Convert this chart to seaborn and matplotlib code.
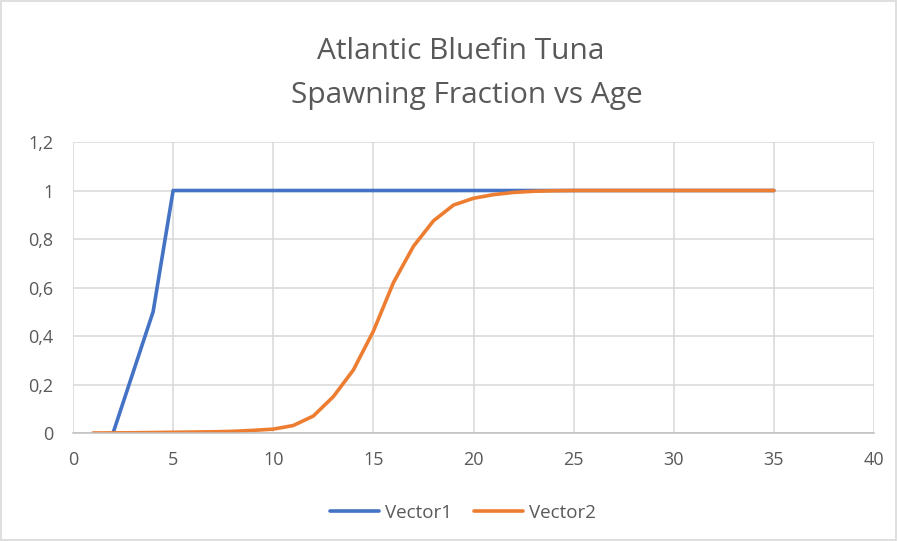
import matplotlib
matplotlib.use("Agg")
import matplotlib.pyplot as plt
import seaborn as sns
import pandas as pd
from matplotlib.ticker import FuncFormatter, MultipleLocator
from matplotlib.patches import Rectangle

age1 = [2, 3, 4, 5, 6, 7, 8, 9, 10, 11, 12, 13, 14, 15, 16, 17, 18, 19, 20,
        21, 22, 23, 24, 25, 26, 27, 28, 29, 30, 31, 32, 33, 34, 35]
vector1 = [0, 0.25, 0.5, 1, 1, 1, 1, 1, 1, 1, 1, 1, 1, 1, 1, 1, 1, 1, 1,
           1, 1, 1, 1, 1, 1, 1, 1, 1, 1, 1, 1, 1, 1, 1]
age2 = list(range(1, 36))
vector2 = [0, 0.0005, 0.001, 0.002, 0.003, 0.004, 0.005, 0.007, 0.011, 0.016,
           0.031, 0.07, 0.15, 0.26, 0.42, 0.62, 0.77, 0.875, 0.94, 0.968,
           0.983, 0.992, 0.997, 0.999, 1, 1, 1, 1, 1, 1, 1, 1, 1, 1, 1]
title_lines = ["Atlantic Bluefin Tuna", "Spawning Fraction vs Age"]

df = pd.concat([
    pd.DataFrame({"Age": age1, "Fraction": vector1, "Series": "Vector1"}),
    pd.DataFrame({"Age": age2, "Fraction": vector2, "Series": "Vector2"}),
])

sns.set_theme(style="white")
plt.rcParams["font.family"] = ["Open Sans", "DejaVu Sans"]
text_color = "#595959"

fig = plt.figure(figsize=(8.98, 5.41), dpi=100)
ax = fig.add_axes([0.0813, 0.1996, 0.892, 0.5379])

sns.lineplot(data=df, x="Age", y="Fraction", hue="Series",
             palette={"Vector1": "#4472C4", "Vector2": "#ED7D31"},
             linewidth=2.6, ax=ax, legend=True)

ax.set_xlim(0, 40)
ax.set_ylim(0, 1.2)
ax.xaxis.set_major_locator(MultipleLocator(5))
ax.yaxis.set_major_locator(MultipleLocator(0.2))
ax.yaxis.set_major_formatter(FuncFormatter(
    lambda v, p: ("%g" % round(v, 1)).replace(".", ",")))
ax.grid(True, color="#D9D9D9", linewidth=1.1)
ax.set_axisbelow(True)
for s in ["top", "right", "left"]:
    ax.spines[s].set_visible(False)
ax.spines["bottom"].set_color("#BFBFBF")
ax.spines["bottom"].set_linewidth(1.1)
ax.tick_params(axis="both", length=0, labelsize=13, colors=text_color)
ax.tick_params(axis="x", pad=13)
ax.tick_params(axis="y", pad=14)
ax.set_xlabel("")
ax.set_ylabel("")

fig.text(0.5125, 1 - 59.3 / 541, title_lines[0], ha="center", va="baseline",
         fontsize=21.5, color=text_color)
fig.text(0.520, 1 - 103.3 / 541, title_lines[1], ha="center", va="baseline",
         fontsize=21.5, color=text_color)

handles, labels = ax.get_legend_handles_labels()
ax.legend(handles, labels, loc="center", bbox_to_anchor=(0.5155, 1 - 513 / 541),
          bbox_transform=fig.transFigure, ncol=2, frameon=False,
          fontsize=13.5, labelcolor=text_color, handlelength=2.6,
          handletextpad=0.3, columnspacing=1.2, borderpad=0.2)

fig.patches.append(Rectangle((0.001, 0.002), 0.997, 0.996, transform=fig.transFigure,
                             fill=False, edgecolor="#D9D9D9", linewidth=1.2))

fig.savefig("out.png", dpi=100, facecolor="white")
